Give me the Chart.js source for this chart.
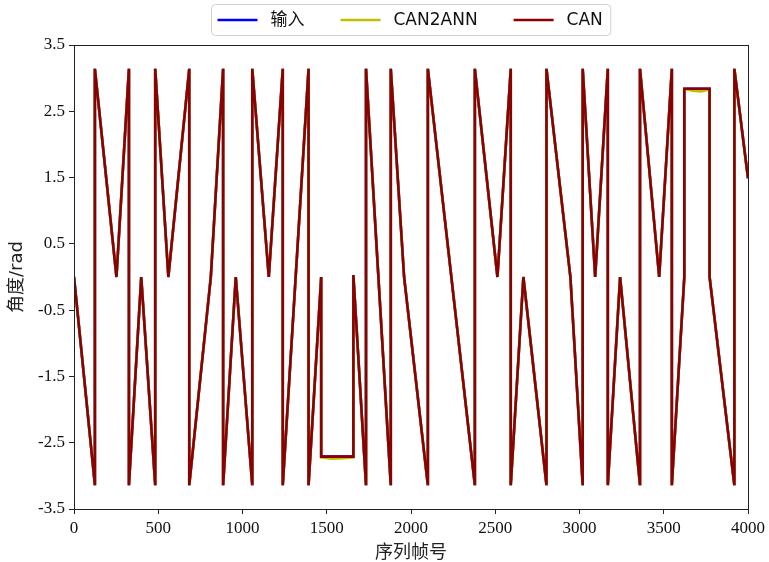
<!DOCTYPE html>
<html>
<head>
<meta charset="utf-8">
<script src="https://cdn.jsdelivr.net/npm/chart.js@4.4.1/dist/chart.umd.min.js"></script>
<style>
  html, body { margin: 0; padding: 0; background: #fff; }
  #wrap { width: 769px; height: 562px; }
</style>
</head>
<body>
<div id="wrap"><canvas id="angleChart" width="769" height="562"></canvas></div>
<script>
// frame index of each vertex
const frames = [
    0, 124, 124, 252, 326, 326, 399, 482, 482, 560,
    684, 684, 812, 885, 885, 960, 1058, 1058, 1156, 1239,
    1239, 1392, 1392, 1467, 1467, 1530, 1600, 1658, 1658, 1733,
    1733, 1880, 1880, 1959, 2100, 2100, 2379, 2379, 2513, 2592,
    2592, 2667, 2804, 2804, 2946, 3019, 3019, 3093, 3168, 3168,
    3241, 3359, 3359, 3473, 3548, 3548, 3622, 3622, 3670, 3720,
    3772, 3772, 3919, 3919, 4000
];

// angle (rad)
const inputAngle = [
    0, -3.14, 3.14, 0, 3.14, -3.14, 0, -3.14, 3.14, 0,
    3.14, -3.14, 0, 3.14, -3.14, 0, -3.14, 3.14, 0, 3.14,
    -3.14, 3.14, -3.14, 0, -2.71, -2.71, -2.71, -2.71, 0.03, -3.14,
    3.14, -3.14, 3.14, 0, -3.14, 3.14, -3.14, 3.14, 0, 3.14,
    -3.14, 0, -3.14, 3.14, 0, -3.14, 3.14, 0, 3.14, -3.14,
    0, -3.14, 3.14, 0, 3.14, -3.14, 0, 2.84, 2.84, 2.84,
    2.84, 0, -3.14, 3.14, 1.49
];

const can2annAngle = [
    0, -3.14, 3.14, 0, 3.14, -3.14, 0, -3.14, 3.14, 0,
    3.14, -3.14, 0, 3.14, -3.14, 0, -3.14, 3.14, 0, 3.14,
    -3.14, 3.14, -3.14, 0, -2.72, -2.74, -2.735, -2.72, 0.03, -3.14,
    3.14, -3.14, 3.14, 0, -3.14, 3.14, -3.14, 3.14, 0, 3.14,
    -3.14, 0, -3.14, 3.14, 0, -3.14, 3.14, 0, 3.14, -3.14,
    0, -3.14, 3.14, 0, 3.14, -3.14, 0, 2.84, 2.81, 2.80,
    2.83, 0, -3.14, 3.14, 1.49
];

const canAngle = [
    0, -3.14, 3.14, 0, 3.14, -3.14, 0, -3.14, 3.14, 0,
    3.14, -3.14, 0, 3.14, -3.14, 0, -3.14, 3.14, 0, 3.14,
    -3.14, 3.14, -3.14, 0, -2.71, -2.71, -2.71, -2.71, 0.03, -3.14,
    3.14, -3.14, 3.14, 0, -3.14, 3.14, -3.14, 3.14, 0, 3.14,
    -3.14, 0, -3.14, 3.14, 0, -3.14, 3.14, 0, 3.14, -3.14,
    0, -3.14, 3.14, 0, 3.14, -3.14, 0, 2.84, 2.84, 2.84,
    2.84, 0, -3.14, 3.14, 1.49
];

const yTicks = [-3.5, -2.5, -1.5, -0.5, 0.5, 1.5, 2.5, 3.5];
const xTicks = [0, 500, 1000, 1500, 2000, 2500, 3000, 3500, 4000];

const seriesNames = ['输入', 'CAN2ANN', 'CAN'];
const seriesColors = ['#0000ff', '#bfbf00', '#8b0000'];

const tickFont = { family: '"Liberation Serif", "Times New Roman", serif', size: 17 };

function toPoints(ys) {
    return frames.map((f, i) => ({ x: f, y: ys[i] }));
}

// box around the plot and the framed legend above it
const framePlugin = {
    id: 'frame',
    afterDatasetsDraw(chart) {
        const { ctx, chartArea: a } = chart;
        ctx.save();
        ctx.strokeStyle = '#222';
        ctx.lineWidth = 1;
        ctx.strokeRect(a.left + 0.5, a.top + 0.5, a.right - a.left, a.bottom - a.top);
        ctx.restore();
    },
    afterDraw(chart) {
        const { ctx, chartArea: a } = chart;
        ctx.save();
        ctx.font = '17px "DejaVu Sans", "Noto Sans CJK SC", sans-serif';
        const lineLen = 40, gapText = 13, gapItem = 36, padL = 6, padR = 8;
        const widths = seriesNames.map(n => ctx.measureText(n).width);
        let total = padL + padR;
        widths.forEach((w, i) => { total += lineLen + gapText + w + (i < widths.length - 1 ? gapItem : 0); });
        const cx = (a.left + a.right) / 2;
        const x0 = Math.round(cx - total / 2) + 0.5, y0 = 4.5, h = 31;
        ctx.beginPath();
        ctx.roundRect(x0, y0, total, h, 4);
        ctx.fillStyle = 'rgba(255,255,255,0.8)';
        ctx.fill();
        ctx.strokeStyle = '#d0d0d0';
        ctx.lineWidth = 1;
        ctx.stroke();
        let x = x0 + padL;
        const yMid = y0 + h / 2;
        seriesNames.forEach((n, i) => {
            ctx.strokeStyle = seriesColors[i];
            ctx.lineWidth = 2.4;
            ctx.beginPath();
            ctx.moveTo(x, yMid);
            ctx.lineTo(x + lineLen, yMid);
            ctx.stroke();
            x += lineLen + gapText;
            ctx.fillStyle = '#111';
            ctx.textBaseline = 'middle';
            ctx.fillText(n, x, yMid + 1);
            x += widths[i] + gapItem;
        });
        ctx.restore();
    }
};

new Chart(document.getElementById('angleChart'), {
    type: 'line',
    data: {
        datasets: [
            { label: seriesNames[0], data: toPoints(inputAngle), borderColor: seriesColors[0], order: 3 },
            { label: seriesNames[1], data: toPoints(can2annAngle), borderColor: seriesColors[1], order: 2 },
            { label: seriesNames[2], data: toPoints(canAngle), borderColor: seriesColors[2], order: 1 }
        ]
    },
    options: {
        responsive: false,
        animation: false,
        layout: { padding: { left: 0, right: 17, top: 45, bottom: 0 } },
        elements: {
            point: { radius: 0 },
            line: { borderWidth: 2.6, tension: 0, fill: false }
        },
        plugins: {
            legend: { display: false },
            tooltip: { enabled: false }
        },
        scales: {
            x: {
                type: 'linear',
                min: 0,
                max: 4000,
                afterBuildTicks: s => { s.ticks = xTicks.map(v => ({ value: v })); },
                afterFit: s => { s.height = 53; },
                ticks: { font: tickFont, color: '#111', padding: 4, maxRotation: 0, callback: v => String(v) },
                grid: { drawOnChartArea: false, drawTicks: true, tickLength: 5, color: '#222' },
                border: { display: false },
                title: {
                    display: true,
                    text: '序列帧号',
                    font: { family: '"Noto Sans CJK SC", sans-serif', size: 18 },
                    color: '#222',
                    padding: { top: 0, bottom: 0 }
                }
            },
            y: {
                type: 'linear',
                min: -3.5,
                max: 3.5,
                afterBuildTicks: s => { s.ticks = yTicks.map(v => ({ value: v })); },
                afterFit: s => { s.width = 74; },
                ticks: { font: tickFont, color: '#111', padding: 4, callback: v => v.toFixed(1) },
                grid: { drawOnChartArea: false, drawTicks: true, tickLength: 5, color: '#222' },
                border: { display: false },
                title: {
                    display: true,
                    text: '角度/rad',
                    font: { family: '"DejaVu Sans", "Noto Sans CJK SC", sans-serif', size: 18 },
                    color: '#222',
                    padding: { top: 7, bottom: 0 }
                }
            }
        }
    },
    plugins: [framePlugin]
});
</script>
</body>
</html>
